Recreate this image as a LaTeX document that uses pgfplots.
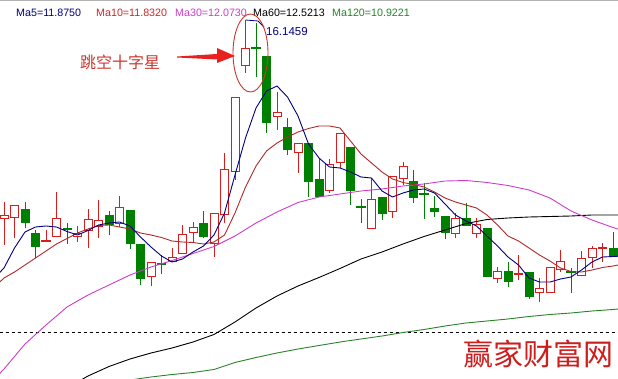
\documentclass[border=0pt]{standalone}
\usepackage{fontspec}
\setmainfont{Liberation Sans}
\newfontfamily\cjk{Noto Sans CJK SC}
\usepackage{pgfplots}
\usepackage{pgfplotstable}
\pgfplotsset{compat=1.18}
\definecolor{upc}{RGB}{214,30,30}
\definecolor{dnc}{RGB}{0,128,0}
\definecolor{ma5c}{RGB}{0,0,128}
\definecolor{ma10c}{RGB}{175,40,40}
\definecolor{ma10t}{RGB}{200,40,40}
\definecolor{ma30c}{RGB}{204,60,204}
\definecolor{ma120c}{RGB}{40,130,40}
\definecolor{annc}{RGB}{200,55,45}
\definecolor{arrc}{RGB}{232,32,32}
\definecolor{wm}{RGB}{205,30,30}

% red (rising) candles: day, open, high, low, close
\pgfplotstableread{
x o h l c
1 12.17 12.51 11.65 12.25
2 12.19 12.45 11.79 12.45
6 11.81 12.71 11.81 12.19
8 11.81 12.03 11.71 11.89
9 11.93 12.37 11.59 12.17
10 12.01 12.55 11.79 12.15
12 12.07 12.63 12.01 12.41
15 11.01 11.31 10.83 11.31
17 11.31 11.59 11.31 11.41
18 11.47 12.05 11.47 11.87
19 11.89 12.11 11.71 12.01
21 11.67 12.29 11.41 12.29
22 12.25 13.49 12.09 13.17
23 13.11 14.61 12.95 14.61
24 15.23 16.15 15.09 15.59
27 14.21 14.71 13.95 14.31
29 13.49 13.69 13.09 13.69
32 12.73 13.37 12.69 13.27
33 13.29 13.89 13.19 13.89
36 11.97 12.99 11.97 12.57
38 12.31 13.03 12.19 13.03
39 12.97 13.31 12.85 13.23
44 11.87 12.29 11.79 12.19
46 11.87 12.19 11.79 12.07
48 10.97 11.21 10.89 11.13
52 10.69 10.99 10.51 10.79
53 10.69 11.21 10.69 11.21
54 11.15 11.55 11.11 11.33
56 11.03 11.53 11.03 11.39
57 11.39 11.63 11.19 11.59
}\up
% green (falling) candles
\pgfplotstableread{
x o h l c
3 12.37 12.51 11.99 12.09
4 11.89 11.95 11.39 11.61
7 11.99 12.09 11.67 11.95
11 12.25 12.33 11.85 12.05
13 12.35 12.35 11.57 11.67
14 11.67 11.67 10.85 10.97
20 12.09 12.33 11.79 11.81
26 15.43 15.43 13.89 14.09
28 14.01 14.19 13.45 13.55
30 13.69 13.69 12.61 12.91
31 12.97 13.37 12.61 12.61
34 13.61 13.61 12.45 12.73
37 12.61 12.61 12.15 12.27
40 12.93 13.15 12.49 12.59
42 12.39 12.63 12.21 12.31
43 12.23 12.23 11.77 11.89
45 12.19 12.49 12.03 12.03
47 11.99 11.99 11.01 11.01
49 11.13 11.31 10.81 10.91
51 11.11 11.11 10.57 10.61
59 11.59 11.91 11.43 11.43
}\down
% red crosses (open = close)
\pgfplotstableread{
x o h l c
5 11.73 11.95 11.71 11.73
50 11.07 11.45 10.95 11.07
58 11.59 11.69 11.31 11.59
}\upx
% green crosses
\pgfplotstableread{
x o h l c
16 11.27 11.45 11.07 11.27
25 15.59 16.09 15.01 15.59
35 12.41 12.57 12.09 12.41
41 12.67 12.89 12.17 12.67
55 11.11 11.19 10.69 11.11
}\downx

\pgfplotstableread{
x y
0 10.97
1 11.19
2 11.59
3 11.91
4 12.01
5 12.03
6 12.01
7 11.92
8 11.85
9 11.94
10 12.05
11 12.09
12 12.11
13 12.03
14 11.81
15 11.61
16 11.43
17 11.31
18 11.37
19 11.51
20 11.63
21 11.85
22 12.29
23 13.05
24 13.79
25 14.39
26 14.73
27 14.83
28 14.61
29 14.23
30 13.67
31 13.39
32 13.21
33 13.19
34 13.11
35 13.01
36 12.99
37 12.73
38 12.61
39 12.69
40 12.75
41 12.77
42 12.69
43 12.47
44 12.25
45 12.13
46 12.03
47 11.83
48 11.63
49 11.41
50 11.25
51 10.99
52 10.91
53 10.91
54 10.97
55 11.01
56 11.15
57 11.31
58 11.41
59 11.42
60 11.43
}\mafive

\pgfplotstableread{
x y
0 10.79
1 10.99
2 11.11
3 11.25
4 11.39
5 11.53
6 11.67
7 11.78
8 11.89
9 11.97
10 12.04
11 12.05
12 12.01
13 11.97
14 11.89
15 11.85
16 11.80
17 11.73
18 11.71
19 11.70
20 11.67
21 11.71
22 11.85
23 12.29
24 12.81
25 13.23
26 13.53
27 13.69
28 13.81
29 13.91
30 13.98
31 14.03
32 14.03
33 13.99
34 13.73
35 13.47
36 13.29
37 13.11
38 12.97
39 12.90
40 12.86
41 12.81
42 12.71
43 12.59
44 12.51
45 12.45
46 12.39
47 12.25
48 12.05
49 11.83
50 11.73
51 11.59
52 11.45
53 11.33
54 11.19
55 11.12
56 11.11
57 11.15
58 11.20
59 11.23
60 11.27
}\maten

\pgfplotstableread{
x y
0 8.95
1 9.17
3 9.67
5 10.05
7 10.41
9 10.65
11 10.85
13 11.05
15 11.21
17 11.34
19 11.48
21 11.62
23 11.83
25 12.09
27 12.31
29 12.50
31 12.61
33 12.67
35 12.73
37 12.77
39 12.83
41 12.87
43 12.93
45 12.94
47 12.90
49 12.84
51 12.75
53 12.59
55 12.33
57 12.15
59 12.00
60 11.93
}\mathirty

\pgfplotstableread{
x y
7 8.79
9 9.03
11 9.22
13 9.37
15 9.49
17 9.59
19 9.71
21 9.86
23 10.11
25 10.39
27 10.63
29 10.83
31 11.00
33 11.18
35 11.37
37 11.51
39 11.67
41 11.82
43 11.95
45 12.08
47 12.16
49 12.19
51 12.21
53 12.22
55 12.23
57 12.25
59 12.25
60 12.25
}\masixty

\pgfplotstableread{
x y
13 8.95
15 9.01
17 9.06
19 9.10
21 9.16
23 9.30
25 9.40
27 9.49
29 9.57
31 9.64
33 9.71
35 9.77
37 9.83
39 9.90
41 9.96
43 10.03
45 10.09
47 10.13
49 10.17
51 10.22
53 10.26
55 10.29
57 10.33
59 10.36
60 10.38
}\maonetwenty

\pgfplotsset{
  candle/.style 2 args={draw=none, mark=none, forget plot,
    error bars/.cd, #1, error mark=none,
    error bar style={#2}},
}

\begin{document}
\begin{tikzpicture}
\begin{axis}[
  at={(0pt,0pt)}, anchor=south west,
  width=618pt, height=378pt, scale only axis,
  xmin=0.619, xmax=59.476, ymin=8.99, ymax=16.55,
  hide axis, clip=true]

% dashed reference line
\addplot[black, line width=0.8pt, dash pattern=on 3pt off 3pt] coordinates {(0,9.91) (60,9.91)};

% wicks
\addplot[candle={y dir=plus, y explicit}{line width=1pt, draw=upc, solid}]
  table[x=x, y=l, y error plus expr=\thisrow{h}-\thisrow{l}] {\up};
\addplot[candle={y dir=plus, y explicit}{line width=1pt, draw=upc, solid}]
  table[x=x, y=l, y error plus expr=\thisrow{h}-\thisrow{l}] {\upx};
\addplot[candle={y dir=plus, y explicit}{line width=1pt, draw=dnc, solid}]
  table[x=x, y=l, y error plus expr=\thisrow{h}-\thisrow{l}] {\down};
\addplot[candle={y dir=plus, y explicit}{line width=1pt, draw=dnc, solid}]
  table[x=x, y=l, y error plus expr=\thisrow{h}-\thisrow{l}] {\downx};

% bodies: red hollow
\addplot[candle={y dir=plus, y explicit}{line width=9pt, draw=upc, solid}]
  table[x=x, y=o, y error plus expr=\thisrow{c}-\thisrow{o}] {\up};
\addplot[candle={y dir=plus, y explicit}{line width=7pt, draw=white, solid, shorten <=1pt, shorten >=1pt}]
  table[x=x, y=o, y error plus expr=\thisrow{c}-\thisrow{o}] {\up};
% bodies: green filled
\addplot[candle={y dir=plus, y explicit}{line width=9pt, draw=dnc, solid}]
  table[x=x, y=c, y error plus expr=\thisrow{o}-\thisrow{c}] {\down};
% crosses
\addplot[candle={x dir=both, x fixed=0.43}{line width=1.5pt, draw=upc, solid}]
  table[x=x, y=o] {\upx};
\addplot[candle={x dir=both, x fixed=0.43}{line width=1.2pt, draw=dnc, solid}]
  table[x=x, y=o] {\downx};

% moving averages
\addplot[ma120c, line width=0.9pt, mark=none] table[x=x,y=y] {\maonetwenty};
\addplot[black, line width=0.9pt, mark=none] table[x=x,y=y] {\masixty};
\addplot[ma30c, line width=0.9pt, mark=none] table[x=x,y=y] {\mathirty};
\addplot[ma10c, line width=0.9pt, mark=none] table[x=x,y=y] {\maten};
\addplot[ma5c, line width=0.9pt, mark=none] table[x=x,y=y] {\mafive};
\end{axis}

% top border
\draw[gray!60, line width=1pt] (0pt,377pt) -- (618pt,377pt);

% MA legend texts
\begin{scope}[every node/.style={anchor=base west, inner sep=0pt, font=\fontsize{10.7}{12}\selectfont}]
\node[text=ma5c] at (16pt,361pt) {Ma5=11.8750};
\node[text=ma10t] at (96pt,361pt) {Ma10=11.8320};
\node[text=ma30c] at (175pt,361pt) {Ma30=12.0730};
\node[text=black] at (253pt,361pt) {Ma60=12.5213};
\node[text=ma120c] at (332pt,361pt) {Ma120=10.9221};
\end{scope}

% peak marker
\draw[ma5c, line width=0.8pt] (245.5pt,358pt) -- (258pt,357pt) -- (264pt,351pt);
\node[anchor=base west, inner sep=0pt, text=ma5c, font=\fontsize{11.5}{13}\selectfont] at (266pt,342pt) {16.1459};

% annotation
\node[inner sep=0pt, text=annc, font=\cjk\fontsize{16}{16}\selectfont] at (120pt,315.5pt) {跳空十字星};
\fill[arrc] (177pt,321.5pt) -- (217pt,324pt) -- (217pt,330pt) -- (235pt,322pt) -- (217pt,315pt) -- (217pt,318.5pt) -- (177pt,320.5pt) -- cycle;
\draw[annc, line width=0.9pt] (250.5pt,325pt) ellipse [x radius=17.5pt, y radius=39pt];

% watermark
\node[inner sep=0pt, text=wm, font=\cjk\fontsize{30}{30}\selectfont] at (538pt,24pt) {赢家财富网};

\pgfresetboundingbox
\useasboundingbox (0pt,0pt) rectangle (618pt,378pt);
\end{tikzpicture}
\end{document}
